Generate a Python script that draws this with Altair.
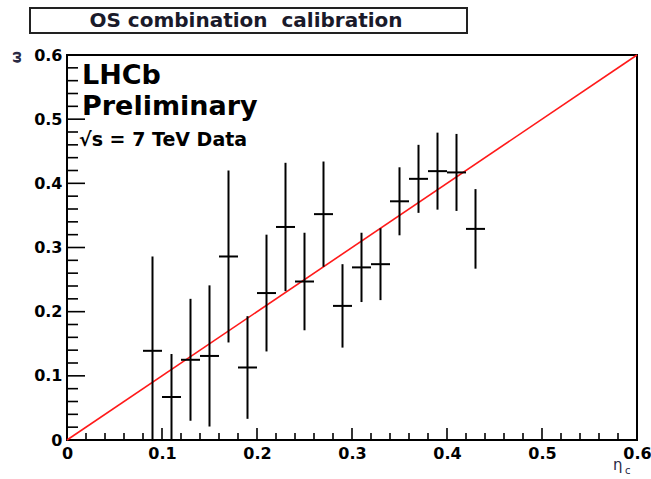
import altair as alt
import pandas as pd

# ---- data ----
eta = [0.09, 0.11, 0.13, 0.15, 0.17, 0.19, 0.21, 0.23, 0.25,
       0.27, 0.29, 0.31, 0.33, 0.35, 0.37, 0.39, 0.41, 0.43]
omega = [0.139, 0.067, 0.125, 0.131, 0.286, 0.113, 0.229, 0.332, 0.247,
         0.352, 0.209, 0.269, 0.274, 0.372, 0.407, 0.419, 0.417, 0.329]
omega_err = [0.147, 0.067, 0.095, 0.110, 0.134, 0.080, 0.091, 0.100, 0.076,
             0.082, 0.065, 0.054, 0.056, 0.053, 0.053, 0.060, 0.060, 0.062]
eta_halfwidth = 0.01

line_eta = [0.0, 0.6]
line_omega = [0.0, 0.6]

major_ticks = [0.0, 0.1, 0.2, 0.3, 0.4, 0.5, 0.6]
minor_ticks = [0.02, 0.04, 0.06, 0.08, 0.12, 0.14, 0.16, 0.18, 0.22, 0.24,
               0.26, 0.28, 0.32, 0.34, 0.36, 0.38, 0.42, 0.44, 0.46, 0.48,
               0.52, 0.54, 0.56, 0.58]

title_text = "OS combination\u00a0 calibration"
label_lhcb = "LHCb"
label_prelim = "Preliminary"
label_energy = "\u221as = 7 TeV Data"
x_title = "\u03b7"
x_title_sub = "c"
y_title = "\u03c9"

FONT = "DejaVu Sans"
W, H = 570, 385

pts = pd.DataFrame({"eta": eta, "omega": omega, "err": omega_err})
line_df = pd.DataFrame({"eta": line_eta, "omega": line_omega})
major_df = pd.DataFrame({"v": major_ticks})
minor_df = pd.DataFrame({"v": minor_ticks})

xs = alt.Scale(domain=[0, 0.6], nice=False, zero=False)
ys = alt.Scale(domain=[0, 0.6], nice=False, zero=False)

label_expr = "datum.value == 0 ? '0' : format(datum.value, '.1f')"
X_AXIS = alt.Axis(values=major_ticks, labelExpr=label_expr, ticks=False, domain=False,
                  grid=False, labelFont=FONT, labelFontSize=16, labelFontWeight="bold",
                  labelColor="black", labelPadding=5, labelFlush=False,
                  labelOverlap=False, title=None)
Y_AXIS = alt.Axis(values=major_ticks, labelExpr=label_expr, ticks=False, domain=False,
                  grid=False, labelFont=FONT, labelFontSize=16, labelFontWeight="bold",
                  labelColor="black", labelPadding=5, labelFlush=False,
                  labelOverlap=False, title=None)

base = alt.Chart(pts).transform_calculate(
    lo="datum.omega - datum.err",
    hi="datum.omega + datum.err",
    xlo=f"datum.eta - {eta_halfwidth}",
    xhi=f"datum.eta + {eta_halfwidth}",
)

vbars = base.mark_rule(color="black", strokeWidth=2, clip=True).encode(
    x=alt.X("eta:Q", scale=xs, axis=X_AXIS),
    y=alt.Y("lo:Q", scale=ys, axis=Y_AXIS),
    y2="hi:Q",
)
hbars = base.mark_rule(color="black", strokeWidth=2, clip=True).encode(
    x=alt.X("xlo:Q", scale=xs, axis=X_AXIS),
    x2="xhi:Q",
    y=alt.Y("omega:Q", scale=ys, axis=Y_AXIS),
)
diag = alt.Chart(line_df).mark_line(color="#ff1a1a", strokeWidth=1.6).encode(
    x=alt.X("eta:Q", scale=xs, axis=X_AXIS),
    y=alt.Y("omega:Q", scale=ys, axis=Y_AXIS),
)

# inward ticks
y_major = alt.Chart(major_df).mark_rule(color="black", strokeWidth=1.6).encode(
    y=alt.Y("v:Q", scale=ys, axis=Y_AXIS), x=alt.value(0), x2=alt.value(18))
y_minor = alt.Chart(minor_df).mark_rule(color="black", strokeWidth=1.6).encode(
    y=alt.Y("v:Q", scale=ys, axis=Y_AXIS), x=alt.value(0), x2=alt.value(11))
x_major = alt.Chart(major_df).mark_rule(color="black", strokeWidth=1.6).encode(
    x=alt.X("v:Q", scale=xs, axis=X_AXIS), y=alt.value(H), y2=alt.value(H - 12))
x_minor = alt.Chart(minor_df).mark_rule(color="black", strokeWidth=1.6).encode(
    x=alt.X("v:Q", scale=xs, axis=X_AXIS), y=alt.value(H), y2=alt.value(H - 7))


def label(txt, x, y, size, align="left", baseline="alphabetic", color="black",
          weight="bold", angle=0):
    return alt.Chart(pd.DataFrame({"t": [txt]})).mark_text(
        font=FONT, fontSize=size, fontWeight=weight, align=align,
        baseline=baseline, color=color, angle=angle
    ).encode(x=alt.value(x), y=alt.value(y), text="t:N")


title_box = alt.Chart(pd.DataFrame({"t": [title_text]})).mark_rect(
    fillOpacity=0, stroke="#222", strokeWidth=2
).encode(x=alt.value(-37), x2=alt.value(400), y=alt.value(-47), y2=alt.value(-22))
title_lbl = label(title_text, 179, -28, 20, align="center", color="#1a1a2a")

lhcb = label(label_lhcb, 15, 29, 27)
prelim = label(label_prelim, 15, 60, 27)
energy = label(label_energy, 12, 91, 19)

xt = label(x_title, 546, 415, 15, weight="normal", color="#2a2a44")
xt_sub = label(x_title_sub, 558, 419, 10, weight="normal", color="#2a2a44")
yt = label(y_title, -50, -4, 14, align="right", baseline="middle",
           weight="bold", color="#2a2a44", angle=270)

chart = alt.layer(
    y_minor, y_major, x_minor, x_major, diag, vbars, hbars,
    title_box, title_lbl, lhcb, prelim, energy, xt, xt_sub, yt
).properties(
    width=W, height=H,
    autosize=alt.AutoSizeParams(type="none"),
    padding={"left": 67, "top": 55, "right": 14, "bottom": 39},
    background="white",
).configure_view(stroke="black", strokeWidth=2)

chart.save("out.html", embed_options={"renderer": "svg", "actions": False})
